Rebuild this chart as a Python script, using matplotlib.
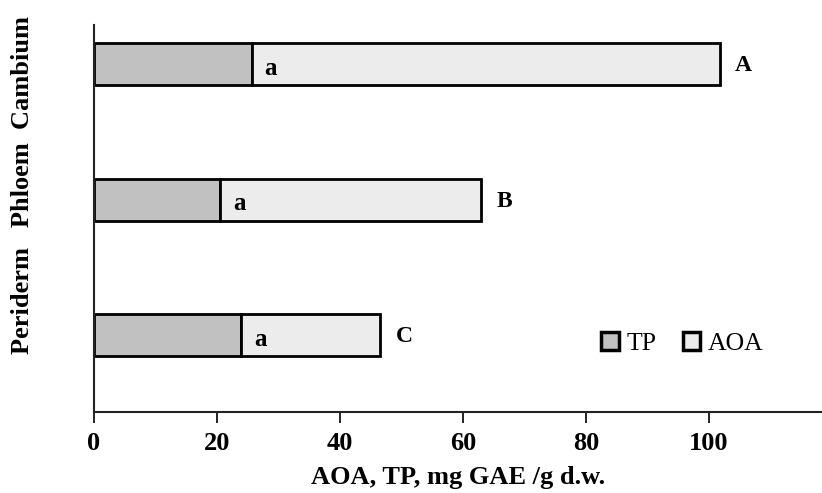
import matplotlib.pyplot as plt
import numpy as np

# données
tissues = ['Periderm', 'Phloem', 'Cambium']
tp = [24.0, 20.6, 25.7]
total = [46.6, 63.0, 101.8]
aoa = [t - p for t, p in zip(total, tp)]
tp_letters = ['a', 'a', 'a']
aoa_letters = ['C', 'B', 'A']
xticks = [0, 20, 40, 60, 80, 100]

plt.rcParams['font.family'] = ['Liberation Serif', 'DejaVu Serif']

fig = plt.figure(figsize=(8.22, 4.93), dpi=100)
ax = fig.add_axes([0.114, 0.164, 0.886, 0.785])

y = np.arange(len(tissues))
h = 0.31
ax.barh(y, tp, h, color='#c1c1c1', edgecolor='black', linewidth=2, label='TP')
ax.barh(y, aoa, h, left=tp, color='#ececec', edgecolor='black', linewidth=2, label='AOA')

# lettres de significativité
for i in range(len(tissues)):
    ax.annotate(tp_letters[i], (tp[i], y[i]), xytext=(9, -3), textcoords='offset points',
                ha='left', va='center', fontsize=18, fontweight='bold')
    ax.annotate(aoa_letters[i], (total[i], y[i]), xytext=(11, -1), textcoords='offset points',
                ha='left', va='center', fontsize=17, fontweight='bold')

ax.set_xlim(0, 118.4)
ax.set_ylim(-0.57, 2.29)
ax.set_xticks(xticks)
ax.set_xticklabels(xticks, fontsize=19, fontweight='bold')
ax.tick_params(axis='x', direction='out', length=8, width=1.2, pad=6)
ax.set_yticks([])
ax.set_xlabel('AOA, TP, mg GAE /g d.w.', fontsize=19, fontweight='bold', labelpad=8)

for s in ['top', 'right']:
    ax.spines[s].set_visible(False)
ax.spines['left'].set_linewidth(1.5)
ax.spines['bottom'].set_linewidth(1.5)
ax.spines['left'].set_color('#222222')
ax.spines['bottom'].set_color('#222222')

fig.text(0.027, 0.625, 'Periderm   Phloem  Cambium', rotation=90, ha='center', va='center',
         fontsize=19, fontweight='bold')

leg = ax.legend(loc='lower right', bbox_to_anchor=(0.945, 0.10), ncol=2, frameon=False,
                fontsize=18.5, handlelength=0.7, handleheight=0.7, handletextpad=0.3,
                columnspacing=1.0, borderaxespad=0.3)
for p in leg.get_patches():
    p.set_linewidth(2.5)

plt.savefig('out.png', dpi=100)
